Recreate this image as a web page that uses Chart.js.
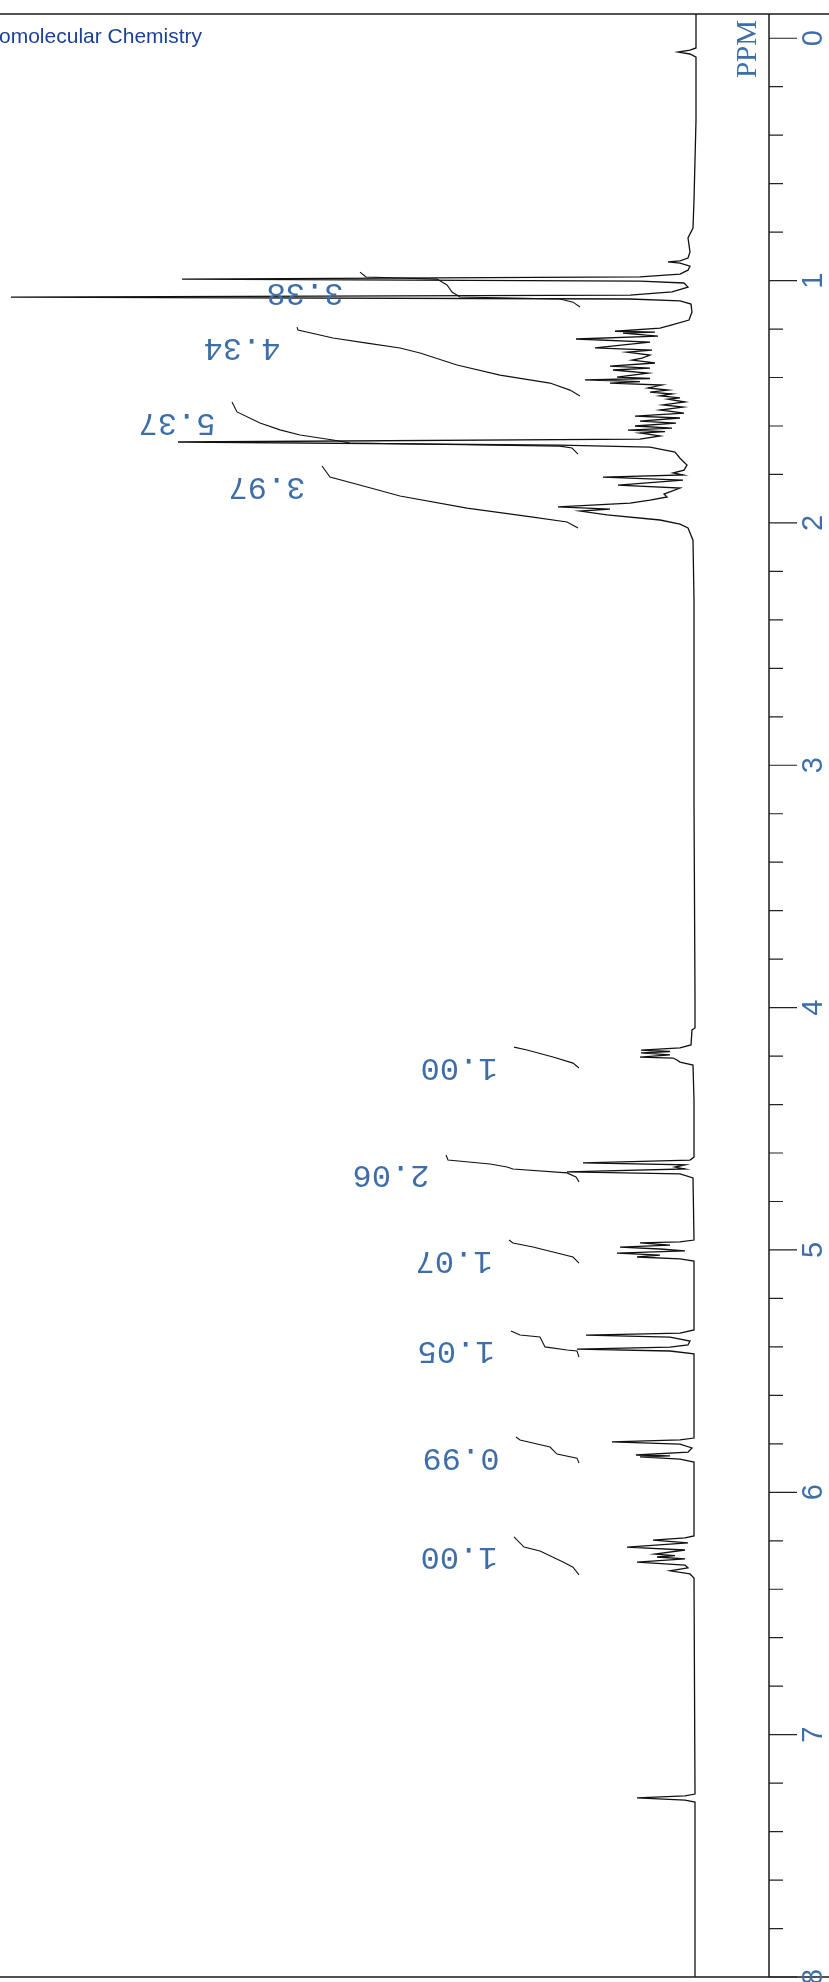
<!DOCTYPE html>
<html>
<head>
<meta charset="utf-8">
<title>1H NMR spectrum</title>
<script src="https://cdn.jsdelivr.net/npm/chart.js@4.4.1/dist/chart.umd.min.js"></script>
<style>
  html, body { margin: 0; padding: 0; background: #fff; }
  #wrap { width: 829px; height: 1982px; }
</style>
</head>
<body>
<div id="wrap"><canvas id="nmr" width="829" height="1982"></canvas></div>
<script>
// Spectrum trace: [ppm, intensity] (intensity grows to the left)
const SPECTRUM_HIGHFIELD = [
  [-0.1, 0], [0.040, 0], [0.049, 0.6], [0.057, 1.8], [0.065, 0.6], [0.078, 0], [0.338, 0],
  [0.668, 0.2], [0.783, 0.3], [0.824, 0.8], [0.853, 0.7], [0.882, 0.6], [0.907, 0.8],
  [0.919, 1.6], [0.923, 2.8], [0.928, 1.6], [0.940, 0.6], [0.957, 0.8], [0.973, 1.6],
  [0.985, 5.6], [0.994, 51.4], [1.002, 5.6], [1.010, 1.2], [1.027, 0.8], [1.047, 2.4],
  [1.060, 6.6], [1.068, 68.5], [1.076, 6.6], [1.084, 1.6], [1.097, 0.5], [1.130, 0.4],
  [1.163, 0.7], [1.183, 2.4], [1.196, 3.6]
];
const SPECTRUM_ALKYL = [
  [1.209, 8.1], [1.213, 4.1], [1.217, 7.3], [1.229, 3.8], [1.241, 12.0], [1.254, 4.6],
  [1.278, 10.1], [1.287, 4.4], [1.295, 6.9], [1.307, 4.6], [1.320, 5.4], [1.328, 6.4],
  [1.340, 4.1], [1.353, 8.6], [1.361, 4.6], [1.369, 8.3], [1.382, 4.8], [1.398, 7.9],
  [1.404, 4.6], [1.410, 11.1], [1.417, 5.6], [1.423, 8.6], [1.431, 3.4], [1.443, 4.8],
  [1.452, 2.8], [1.460, 4.6], [1.468, 2.4], [1.476, 3.6], [1.484, 1.6], [1.489, 2.8],
  [1.501, 1.1], [1.513, 3.3], [1.522, 1.3], [1.534, 3.6], [1.547, 1.2], [1.559, 6.1],
  [1.567, 1.6], [1.580, 5.6], [1.588, 2.0], [1.600, 6.1], [1.609, 2.4], [1.617, 6.8],
  [1.623, 3.1], [1.629, 5.6], [1.641, 3.6], [1.654, 5.6], [1.666, 51.8], [1.679, 13.6],
  [1.687, 4.6], [1.708, 2.1], [1.733, 1.6], [1.761, 0.9], [1.782, 1.2], [1.794, 2.3],
  [1.802, 1.3], [1.811, 9.3], [1.823, 1.3], [1.844, 7.8], [1.856, 1.6], [1.881, 3.2],
  [1.893, 2.9], [1.906, 4.6], [1.918, 6.6], [1.934, 13.8], [1.943, 8.6], [1.951, 11.6],
  [1.967, 8.9], [1.988, 3.6], [2.005, 1.6], [2.021, 0.8], [2.071, 0.3]
];
const SPECTRUM_LOWFIELD = [
  [2.318, 0.2], [3.143, 0.2], [3.968, 0.1], [4.084, 0.1], [4.092, 0.4], [4.154, 0.5],
  [4.166, 1.6], [4.175, 5.5], [4.181, 2.6], [4.187, 5.5], [4.195, 2.6], [4.204, 5.6],
  [4.208, 2.3], [4.216, 1.9], [4.225, 1.6], [4.237, 0.3], [4.381, 0.2], [4.617, 0.2],
  [4.629, 0.6], [4.641, 11.3], [4.649, 1.1], [4.658, 2.1], [4.666, 1.1], [4.678, 12.9],
  [4.686, 1.6], [4.703, 0.3], [4.959, 0.2], [4.967, 1.6], [4.971, 5.6], [4.980, 2.6],
  [4.988, 7.6], [4.996, 3.6], [5.004, 1.1], [5.013, 7.9], [5.021, 3.6], [5.029, 5.9],
  [5.037, 1.6], [5.046, 0.2], [5.330, 0.2], [5.343, 1.6], [5.351, 11.0], [5.360, 2.6],
  [5.376, 0.6], [5.392, 0.8], [5.401, 2.6], [5.409, 11.9], [5.417, 2.6], [5.429, 0.2],
  [5.776, 0.2], [5.784, 1.6], [5.792, 8.4], [5.801, 1.6], [5.817, 0.4], [5.834, 0.8],
  [5.846, 6.0], [5.850, 2.6], [5.854, 5.6], [5.863, 1.6], [5.875, 0.2], [6.180, 0.2],
  [6.188, 1.1], [6.197, 4.3], [6.209, 0.8], [6.226, 6.9], [6.238, 1.1], [6.255, 4.1],
  [6.261, 2.1], [6.267, 3.9], [6.275, 1.1], [6.288, 5.9], [6.300, 1.1], [6.312, 0.8],
  [6.324, 2.6], [6.337, 0.6], [6.354, 0.2], [7.245, 0.1], [7.253, 1.1], [7.261, 5.9],
  [7.270, 1.1], [7.278, 0.1], [8.0, 0.1]
];

// Integral traces, [ppm, height]
const INTEGRAL_TRACES = [
  [[0.965, 33.6], [0.985, 33.0], [0.994, 25.9], [1.018, 24.9], [1.047, 24.4], [1.068, 23.6], [1.076, 13.6], [1.089, 12.3], [1.109, 11.6]],
  [[1.192, 39.9], [1.204, 39.8], [1.237, 36.3], [1.258, 32.9], [1.278, 29.6], [1.299, 27.6], [1.348, 23.9], [1.390, 19.6], [1.423, 14.6], [1.452, 12.6], [1.476, 11.6]],
  [[1.501, 46.4], [1.542, 45.9], [1.588, 43.6], [1.616, 41.6], [1.637, 39.6], [1.658, 36.3], [1.670, 34.6], [1.683, 13.6], [1.691, 12.4], [1.716, 11.8]],
  [[1.765, 37.4], [1.811, 36.6], [1.852, 32.9], [1.889, 29.6], [1.939, 22.9], [1.976, 16.3], [1.996, 12.9], [2.021, 11.8]],
  [[4.163, 18.2], [4.175, 16.9], [4.204, 14.3], [4.229, 12.3], [4.249, 11.7]],
  [[4.608, 25.0], [4.629, 24.8], [4.645, 20.6], [4.658, 18.9], [4.666, 18.3], [4.682, 12.9], [4.699, 12.0], [4.719, 11.7]],
  [[4.959, 18.7], [4.971, 18.3], [4.988, 16.3], [5.029, 12.3], [5.054, 11.7]],
  [[5.334, 18.5], [5.351, 17.6], [5.359, 15.6], [5.400, 15.1], [5.413, 12.9], [5.417, 11.9], [5.442, 11.7]],
  [[5.772, 18.0], [5.784, 17.6], [5.813, 14.6], [5.842, 13.9], [5.859, 11.9], [5.879, 11.7]],
  [[6.184, 18.2], [6.226, 17.2], [6.242, 15.6], [6.288, 13.3], [6.309, 12.3], [6.341, 11.7]]
];
const INTEGRAL_VALUES = ['3.38', '4.34', '5.37', '3.97', '1.00', '2.06', '1.07', '1.05', '0.99', '1.00'];

const PPM_TICKS = [0, 1, 2, 3, 4, 5, 6, 7, 8];
const PPM_TICK_LABELS = ['0', '1', '2', '3', '4', '5', '6', '7', '8'];

const BLUE = '#3d6ea8';

const toPoints = rows => rows.map(([ppm, h]) => ({ x: h, y: ppm }));

const spectrum = [...SPECTRUM_HIGHFIELD, ...SPECTRUM_ALKYL, ...SPECTRUM_LOWFIELD];

const datasets = [{
  data: toPoints(spectrum),
  borderColor: '#111',
  borderWidth: 1.3
}];
INTEGRAL_TRACES.forEach(tr => datasets.push({
  data: toPoints(tr),
  borderColor: '#111',
  borderWidth: 1.1
}));

const framePlugin = {
  id: 'frame',
  afterDraw(chart) {
    const { ctx, chartArea: area, scales } = chart;
    const ys = scales.y, xs = scales.x;
    const W = chart.width;
    ctx.save();

    // box lines
    ctx.strokeStyle = '#1a1a1a';
    ctx.lineWidth = 1.5;
    ctx.beginPath();
    ctx.moveTo(0, area.top); ctx.lineTo(W, area.top);
    ctx.moveTo(0, area.bottom); ctx.lineTo(W, area.bottom);
    ctx.moveTo(area.right, area.top); ctx.lineTo(area.right, area.bottom);
    ctx.stroke();

    // ppm ticks
    ctx.lineWidth = 1.2;
    ctx.strokeStyle = '#222';
    ctx.beginPath();
    PPM_TICKS.forEach(v => {
      const py = ys.getPixelForValue(v);
      ctx.moveTo(area.right, py); ctx.lineTo(area.right + 28, py);
      if (v < 8) {
        for (let k = 1; k < 5; k++) {
          const my = ys.getPixelForValue(v + k * 0.2);
          ctx.moveTo(area.right, my); ctx.lineTo(area.right + 14, my);
        }
      }
    });
    ctx.stroke();

    // tick labels, turned a quarter counter-clockwise
    ctx.fillStyle = BLUE;
    ctx.font = '29px "Liberation Sans", Arial, sans-serif';
    ctx.textAlign = 'center';
    ctx.textBaseline = 'middle';
    PPM_TICKS.forEach((v, i) => {
      ctx.save();
      ctx.translate(area.right + 44, ys.getPixelForValue(v));
      ctx.rotate(-Math.PI / 2);
      ctx.fillText(PPM_TICK_LABELS[i], 0, 1);
      ctx.restore();
    });

    // PPM unit
    ctx.save();
    ctx.font = '29px "Liberation Serif", "Times New Roman", serif';
    ctx.translate(area.right - 22, area.top + 35);
    ctx.rotate(-Math.PI / 2);
    ctx.fillText('PPM', 0, 1);
    ctx.restore();

    // integral values, upside down next to each trace
    ctx.font = '32px "Liberation Mono", monospace';
    INTEGRAL_TRACES.forEach((tr, i) => {
      const px = xs.getPixelForValue(tr[0][1]) - 55;
      const py = ys.getPixelForValue(tr[0][0]) + 20;
      ctx.save();
      ctx.translate(px, py);
      ctx.rotate(Math.PI);
      ctx.fillText(INTEGRAL_VALUES[i], 0, 0);
      ctx.restore();
    });

    // journal title (cut at the left edge)
    ctx.fillStyle = '#1c3f97';
    ctx.font = '21px "Liberation Sans", Arial, sans-serif';
    ctx.textAlign = 'left';
    ctx.textBaseline = 'alphabetic';
    ctx.fillText('omolecular Chemistry', -1, 43);

    ctx.restore();
  }
};

new Chart(document.getElementById('nmr'), {
  type: 'scatter',
  data: { datasets },
  options: {
    responsive: false,
    animation: false,
    showLine: true,
    layout: { padding: { left: 0, right: 60, top: 14, bottom: 5 } },
    elements: { point: { radius: 0, hoverRadius: 0 }, line: { tension: 0 } },
    plugins: { legend: { display: false }, tooltip: { enabled: false } },
    scales: {
      x: { type: 'linear', reverse: true, min: -7.3, max: 69.6, display: false },
      y: { type: 'linear', reverse: true, min: -0.1, max: 8.0, display: false }
    }
  },
  plugins: [framePlugin]
});
</script>
</body>
</html>
